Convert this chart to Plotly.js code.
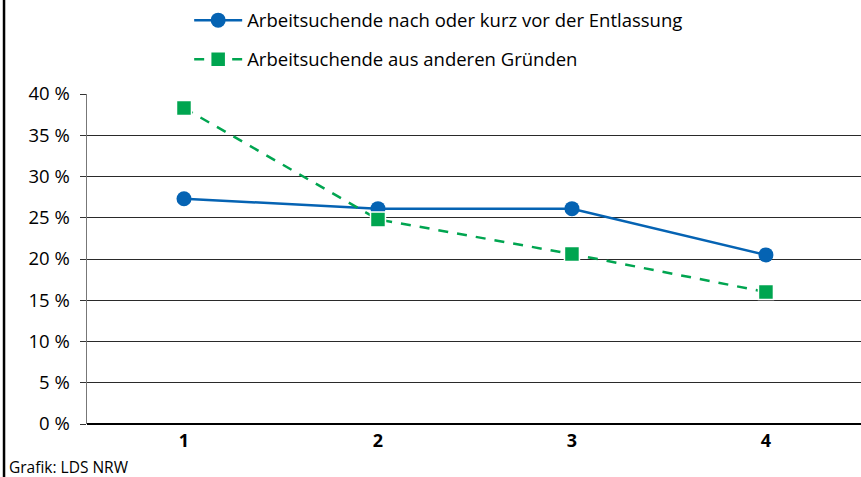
<!DOCTYPE html>
<html>
<head>
<meta charset="utf-8">
<script src="https://cdn.plot.ly/plotly-3.0.1.min.js"></script>
<style>html,body{margin:0;padding:0;background:#fff;}</style>
</head>
<body>
<div id="chart" style="width:861px;height:477px;"></div>
<script>
const categories = [1, 2, 3, 4];
const tickLabels = ["1", "2", "3", "4"];
const seriesNames = ["Arbeitsuchende nach oder kurz vor der Entlassung", "Arbeitsuchende aus anderen Gründen"];
const entlassung = [27.3, 26.1, 26.1, 20.5];
const andereGruende = [38.3, 24.8, 20.6, 16.0];
const yTicks = [0, 5, 10, 15, 20, 25, 30, 35, 40];
const sourceText = "Grafik: LDS NRW";

const FONT = "'Open Sans', 'Noto Sans', sans-serif";

const traces = [
  {
    x: categories, y: entlassung, name: seriesNames[0], type: 'scatter', mode: 'lines+markers',
    legendgroup: 'a',
    line: {color: '#0563B3', width: 2.5},
    marker: {symbol: 'circle', size: 15, color: '#0563B3'}
  },
  {
    x: categories, y: andereGruende, name: seriesNames[1], type: 'scatter', mode: 'lines+markers',
    legendgroup: 'b',
    line: {color: '#00A550', width: 2.5, dash: '10px,9px'},
    marker: {symbol: 'square', size: 15, color: '#00A550', line: {color: '#ffffff', width: 1.5}}
  }
];

const layout = {
  width: 861, height: 477,
  margin: {l: 87, r: 0, t: 94, b: 53},
  paper_bgcolor: '#ffffff', plot_bgcolor: '#ffffff',
  font: {family: FONT, size: 17, color: '#000'},
  showlegend: true,
  legend: {
    x: 0.132, xanchor: 'left', y: 1.28, yanchor: 'top',
    orientation: 'v', traceorder: 'grouped', tracegroupgap: 12,
    font: {family: FONT, size: 18.5, color: '#000'},
    bgcolor: 'rgba(0,0,0,0)', itemwidth: 48
  },
  xaxis: {
    range: [0.5, 4.49],
    tickmode: 'array', tickvals: categories, ticktext: tickLabels,
    showgrid: false, zeroline: false, showline: false,
    ticks: '', ticklabelstandoff: 4,
    tickfont: {family: FONT, size: 18, color: '#000', weight: 'bold'},
    fixedrange: true
  },
  yaxis: {
    range: [0, 40],
    tickmode: 'array', tickvals: yTicks, ticktext: yTicks.map(v => v + ' %'),
    showgrid: true, gridcolor: '#2a2a2a', gridwidth: 1,
    zeroline: true, zerolinecolor: '#000000', zerolinewidth: 2,
    showline: true, linecolor: '#777777', linewidth: 1.5,
    ticks: 'outside', ticklen: 6, tickcolor: '#333333',
    ticklabelstandoff: 6,
    tickfont: {family: FONT, size: 18.5, color: '#000'},
    fixedrange: true
  },
  shapes: [
    {type: 'line', xref: 'paper', yref: 'paper', x0: -0.1072, x1: -0.1072, y0: -0.17, y1: 1.3,
     line: {color: '#000', width: 2.5}}
  ],
  annotations: [
    {text: sourceText, xref: 'paper', yref: 'paper', x: -0.103, y: -0.13, xanchor: 'left', yanchor: 'middle',
     showarrow: false, font: {family: FONT, size: 15.5, color: '#000'}}
  ]
};

Plotly.newPlot('chart', traces, layout, {displayModeBar: false, staticPlot: true});
</script>
</body>
</html>
